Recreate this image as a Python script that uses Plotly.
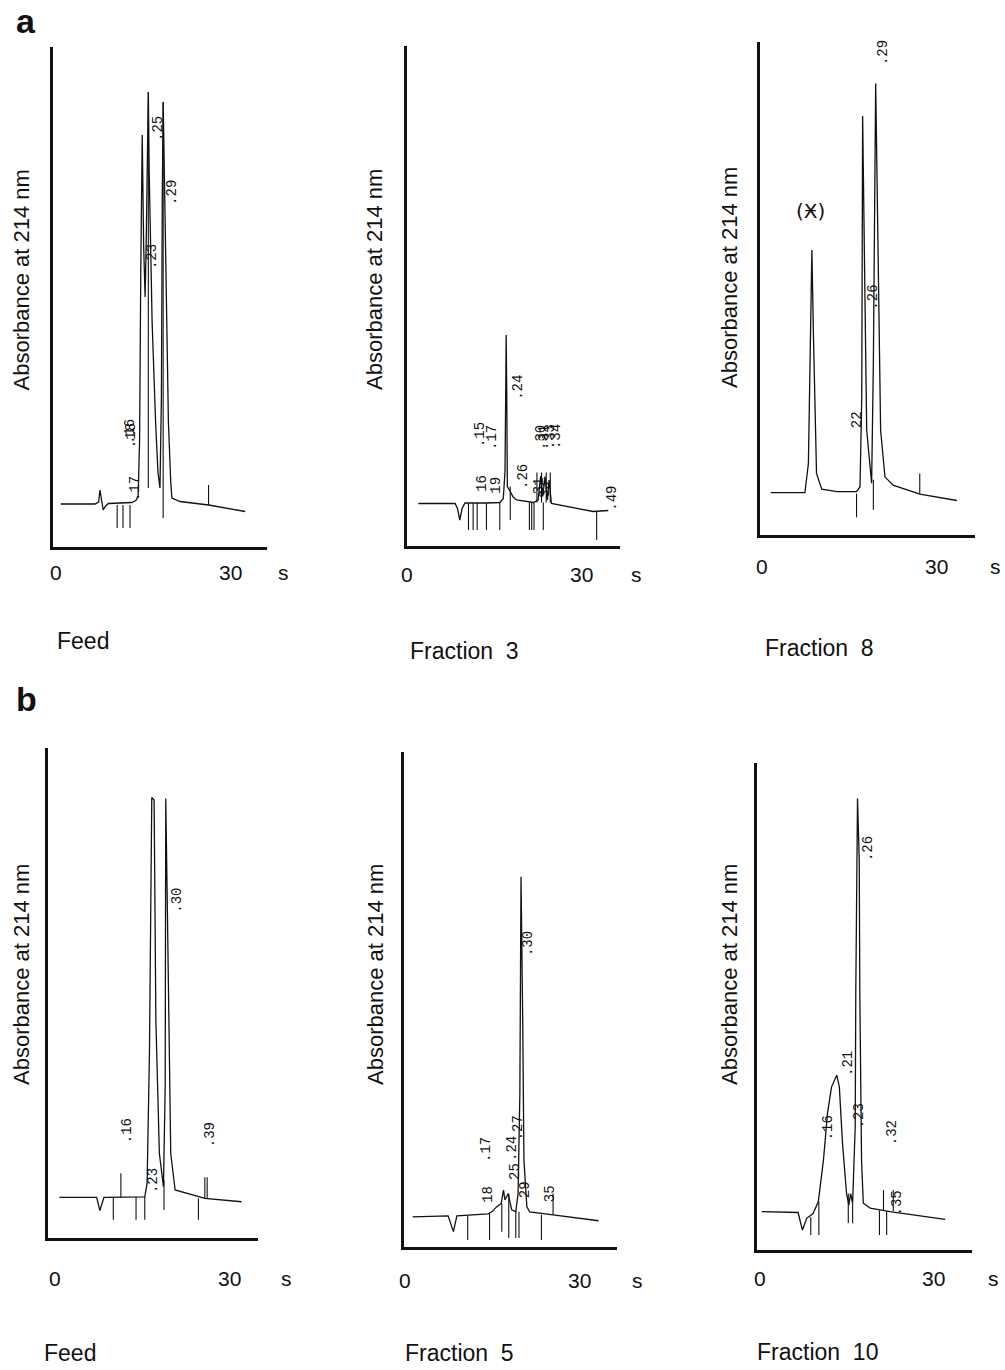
import plotly.graph_objects as go

# ---------------- data (time in s, absorbance in % of full scale) ----------------
group_labels = ["a", "b"]
panel_names = ["Feed", "Fraction\u00a0\u00a03", "Fraction\u00a0\u00a08",
               "Feed", "Fraction\u00a0\u00a05", "Fraction\u00a0\u00a010"]
tick_values = [0, 30]
tick_text = ["0", "30"]
unit_label = "s"
y_title = "Absorbance at 214 nm"

# --- a: Feed
a1_t = [0.9, 6.8, 7.4, 7.65, 7.9, 8.2, 8.6, 9.1, 13.1, 13.8, 14.2, 14.45, 14.65, 14.9, 15.15, 15.4, 15.6, 15.8,
        15.95, 16.1, 16.6, 17.2, 17.6, 17.95, 18.2, 18.35, 18.5, 18.7, 19.0, 19.4, 19.8, 20.0, 21.4, 26.3, 32.6]
a1_A = [8.6, 8.6, 9.0, 11.4, 9.5, 7.4, 8.2, 8.7, 8.9, 9.3, 10.1, 21.4, 54.8, 82.4, 60, 50, 62, 80,
        91, 75, 45, 25, 15, 11.8, 30, 70, 89, 75, 50, 25, 13, 9.8, 9.1, 8.4, 7.1]
a1_mark_t = [10.6, 11.6, 12.8, 15.95, 18.5, 26.3]
a1_mark_top = [8.4, 8.4, 8.4, 91, 89, 12.4]
a1_mark_bot = [3.8, 3.8, 3.8, 11.8, 5.8, 8.4]
a1_lbl = [".25", ".29", ".23", ".16", ".18", ".17"]
a1_lbl_t = [17.6, 20.0, 16.6, 12.8, 13.0, 13.66]
a1_lbl_A = [83.8, 71.0, 58.0, 23.0, 22.2, 11.6]

# --- a: Fraction 3
a2_t = [1.95, 8.3, 8.7, 9.1, 9.5, 10.0, 13.5, 16.0, 16.6, 16.9, 17.05, 17.1, 17.2, 17.3, 17.8, 18.3, 18.9,
        21.8, 22.6, 23.05, 23.4, 23.8, 24.2, 24.5, 24.9, 32.1, 34.7]
a2_A = [8.5, 8.5, 7.5, 5.2, 7.5, 8.6, 8.6, 8.7, 9.5, 15, 35, 42.2, 30, 11.9, 10.9, 9.8, 9.2,
        8.7, 9.2, 14, 9.9, 13.9, 9.2, 13.2, 8.5, 6.9, 7.1]
a2_mark_t = [10.6, 11.4, 12.1, 13.7, 16.0, 17.8, 21.1, 21.5, 21.9, 23.5, 22.4, 23.2, 24.0, 24.7, 32.7]
a2_mark_top = [8.6, 8.6, 8.6, 8.6, 8.7, 11.9, 8.7, 8.7, 8.7, 8.7, 14.7, 14.7, 14.7, 14.7, 6.9]
a2_mark_bot = [3.2, 3.2, 3.2, 3.2, 3.2, 5.2, 3.2, 3.2, 3.2, 3.2, 8.7, 8.7, 8.7, 8.7, 1.2]
a2_lbl = [".24", ".15", ".17", "16", "19", ".26", ".30", ".31", ".33", ".34", "31", "33", ".49"]
a2_lbl_t = [19.1, 12.6, 14.65, 12.9, 15.3, 20.0, 23.1, 23.6, 24.7, 25.7, 22.8, 23.8, 35.3]
a2_lbl_A = [31.8, 22.2, 21.8, 12.6, 12.2, 13.8, 21.8, 21.8, 21.8, 21.8, 12.0, 11.2, 9.6]

# --- a: Fraction 8
a3_t = [1.5, 7.4, 8.0, 8.3, 8.6, 8.85, 9.4, 10.3, 12.9, 16.3, 16.9, 17.2, 17.35, 17.75, 18.05, 18.9, 19.2,
        19.6, 20.05, 20.45, 21.2, 22.6, 27.2, 33.6]
a3_A = [8.6, 8.6, 14.5, 41.6, 57.8, 41.6, 12.5, 9.3, 8.8, 8.8, 9.8, 28, 85, 48.3, 21.3, 10.5, 34.8,
        91.6, 55, 21.3, 11.8, 10.1, 8.3, 7.0]
a3_mark_t = [16.3, 19.2, 27.2]
a3_mark_top = [8.4, 11.2, 12.5]
a3_mark_bot = [3.6, 5.1, 8.3]
a3_lbl = ["(\u04fe)", ".29", ".26", "22"]
a3_lbl_t = [8.3, 20.9, 19.1, 16.4]
a3_lbl_A = [65.7, 97.8, 48.3, 23.3]

# --- b: Feed
b1_t = [0.75, 7.15, 7.7, 8.4, 15.4, 15.8, 16.2, 16.6, 17.0, 17.3, 17.9, 18.6, 18.9, 19.0, 19.3, 19.85,
        20.6, 22.6, 25.7, 32.0]
b1_A = [8.3, 8.3, 5.6, 8.3, 8.4, 11.2, 37.7, 89.9, 89.4, 44.5, 17.3, 10.5, 30.9, 89.7, 64.9, 17.3,
        9.8, 9.1, 8.1, 7.4]
b1_mark_t = [10.0, 13.9, 15.4, 18.7, 24.6, 11.3, 25.7, 26.1]
b1_mark_top = [8.3, 8.3, 8.4, 11.8, 8.1, 13.2, 12.4, 12.4]
b1_mark_bot = [3.7, 3.7, 3.7, 5.7, 3.7, 8.3, 8.1, 8.1]
b1_lbl = [".21", ".30", ".16", ".39", ".23"]
b1_lbl_t = [18.35, 20.9, 12.35, 26.6, 16.8]
b1_lbl_A = [101.8, 69.0, 21.8, 21.0, 11.8]

# --- b: Fraction 5
b2_t = [1.3, 7.4, 8.3, 8.9, 14.3, 15.0, 15.7, 16.5, 16.9, 17.15, 17.7, 18.3, 19.0, 19.4, 19.7, 19.9,
        20.2, 20.4, 20.9, 21.4, 25.4, 33.2]
b2_A = [6.1, 6.3, 3.1, 6.3, 6.7, 7.2, 8.1, 8.8, 11.5, 9.5, 10.8, 7.5, 7.1, 10.8, 31, 74.8,
        44.5, 17.6, 8.1, 7.1, 6.5, 5.3]
b2_mark_t = [10.75, 14.5, 16.6, 17.8, 19.0, 19.55, 23.4, 25.4]
b2_mark_top = [6.3, 6.7, 8.9, 10.8, 7.1, 7.1, 6.5, 10.8]
b2_mark_bot = [1.4, 1.4, 3.1, 1.8, 1.8, 1.8, 1.4, 6.5]
b2_lbl = [".30", ".17", ".24", ".27", "25", "18", "29", "35"]
b2_lbl_t = [21.1, 13.9, 18.35, 19.4, 18.9, 14.2, 20.6, 24.9]
b2_lbl_A = [61.2, 19.6, 20.0, 24.0, 15.2, 10.7, 11.5, 10.7]

# --- b: Fraction 10
b3_t = [0.3, 6.6, 7.35, 8.1, 9.2, 10.1, 11.0, 11.7, 12.4, 13.3, 13.75, 14.3, 15.0, 15.4, 15.7, 16.05,
        16.5, 16.6, 16.9, 17.2, 17.3, 17.6, 17.9, 19.1, 22.5, 32.1]
b3_A = [7.9, 7.7, 4.1, 6.5, 7.5, 9.9, 18.5, 28.1, 33.5, 35.9, 33.5, 21.9, 11.6, 9.2, 11.6, 9.6,
        25.3, 52.7, 92.7, 80.1, 52.7, 18.5, 9.6, 8.6, 7.9, 6.3]
b3_mark_t = [8.8, 10.2, 15.3, 16.05, 20.7, 21.95, 21.4, 23.1]
b3_mark_top = [6.8, 9.9, 11.6, 9.6, 8.1, 7.9, 12.3, 12.3]
b3_mark_bot = [3.1, 3.1, 5.5, 5.5, 3.1, 3.1, 8.1, 8.0]
b3_lbl = [".26", ".21", ".16", ".23", ".32", ".35"]
b3_lbl_t = [18.7, 15.25, 11.8, 17.2, 22.9, 23.7]
b3_lbl_A = [82.5, 38.4, 25.0, 27.5, 24.0, 9.7]

series = [
    (a1_t, a1_A, a1_mark_t, a1_mark_top, a1_mark_bot, a1_lbl, a1_lbl_t, a1_lbl_A),
    (a2_t, a2_A, a2_mark_t, a2_mark_top, a2_mark_bot, a2_lbl, a2_lbl_t, a2_lbl_A),
    (a3_t, a3_A, a3_mark_t, a3_mark_top, a3_mark_bot, a3_lbl, a3_lbl_t, a3_lbl_A),
    (b1_t, b1_A, b1_mark_t, b1_mark_top, b1_mark_bot, b1_lbl, b1_lbl_t, b1_lbl_A),
    (b2_t, b2_A, b2_mark_t, b2_mark_top, b2_mark_bot, b2_lbl, b2_lbl_t, b2_lbl_A),
    (b3_t, b3_A, b3_mark_t, b3_mark_top, b3_mark_bot, b3_lbl, b3_lbl_t, b3_lbl_A),
]

# ---------------- layout geometry (pixels) ----------------
W, H = 1005, 1370
# left, right, bottom, top, px of t=0, px per s, tick-label y, unit x, title x, title y, name x, name y
geom = [
    dict(l=53, r=267, b=547, t=47, x0=55.5, k=5.82, ty=572, sx=283, yx=21.5, yy=280, nx=55, ny=641),
    dict(l=406.7, r=620, b=546, t=46, x0=407, k=5.8, ty=574, sx=636, yx=375, yy=280, nx=408, ny=651),
    dict(l=760, r=975, b=535, t=42, x0=762, k=5.8, ty=566, sx=995, yx=729, yy=278, nx=763, ny=648),
    dict(l=48.3, r=258, b=1238, t=748, x0=55, k=5.83, ty=1278, sx=286, yx=21, yy=975, nx=42, ny=1353),
    dict(l=404, r=617, b=1247, t=752, x0=405, k=5.83, ty=1280, sx=637, yx=375, yy=975, nx=403, ny=1353),
    dict(l=757.3, r=972, b=1250, t=763, x0=760, k=5.77, ty=1278, sx=993, yx=729, yy=975, nx=755, ny=1352),
]

SANS = "Liberation Sans, Arial, Helvetica, sans-serif"
MONO = "Liberation Mono, DejaVu Sans Mono, monospace"
INK = "#111111"

fig = go.Figure()
layout = dict(width=W, height=H, margin=dict(l=0, r=0, t=0, b=0),
              paper_bgcolor="white", plot_bgcolor="white", showlegend=False)
annotations = []


def px(x):
    return x / W


def py(y):
    return 1 - y / H


for i, (g, s) in enumerate(zip(geom, series)):
    n = i + 1
    xa = "xaxis" if n == 1 else f"xaxis{n}"
    ya = "yaxis" if n == 1 else f"yaxis{n}"
    xr = "x" if n == 1 else f"x{n}"
    yr = "y" if n == 1 else f"y{n}"
    t, A, mt, mtop, mbot, lbl, lt, lA = s
    xmin = (g["l"] - g["x0"]) / g["k"]
    xmax = (g["r"] - g["x0"]) / g["k"]
    layout[xa] = dict(domain=[px(g["l"]), px(g["r"])], range=[xmin, xmax], anchor=yr,
                      showline=True, linewidth=3, linecolor=INK, showgrid=False, zeroline=False,
                      showticklabels=False, ticks="", fixedrange=True)
    layout[ya] = dict(domain=[py(g["b"]), py(g["t"])], range=[0, 100], anchor=xr,
                      showline=True, linewidth=3, linecolor=INK, showgrid=False, zeroline=False,
                      showticklabels=False, ticks="", fixedrange=True)

    fig.add_trace(go.Scatter(x=t, y=A, mode="lines", line=dict(color=INK, width=1.3),
                             xaxis=xr, yaxis=yr, hoverinfo="skip", cliponaxis=False))
    sx, sy = [], []
    for a, b_, c in zip(mt, mtop, mbot):
        sx += [a, a, None]
        sy += [b_, c, None]
    fig.add_trace(go.Scatter(x=sx, y=sy, mode="lines", line=dict(color=INK, width=1.1),
                             xaxis=xr, yaxis=yr, hoverinfo="skip", cliponaxis=False))

    for txt, x, y in zip(lbl, lt, lA):
        big = txt.startswith("(")
        annotations.append(dict(text=txt, x=x, y=y, xref=xr, yref=yr, showarrow=False,
                                xanchor="center", yanchor="middle",
                                textangle=0 if big else -90,
                                font=dict(family="DejaVu Sans" if big else MONO,
                                          size=20 if big else 14, color=INK)))
    # tick labels
    for v, tt in zip(tick_values, tick_text):
        annotations.append(dict(text=tt, x=v, y=py(g["ty"]), xref=xr, yref="paper", showarrow=False,
                                xanchor="center", yanchor="middle",
                                font=dict(family=SANS, size=21, color=INK)))
    annotations.append(dict(text=unit_label, x=px(g["sx"]), y=py(g["ty"]), xref="paper", yref="paper",
                            xanchor="center", yanchor="middle",
                            showarrow=False, font=dict(family=SANS, size=21, color=INK)))
    annotations.append(dict(text=y_title, x=px(g["yx"]), y=py(g["yy"]), xref="paper", yref="paper",
                            xanchor="center", yanchor="middle",
                            showarrow=False, textangle=-90, font=dict(family=SANS, size=22, color=INK)))
    annotations.append(dict(text=panel_names[i], x=px(g["nx"]), y=py(g["ny"]), xref="paper", yref="paper",
                            xanchor="left", yanchor="middle",
                            showarrow=False, font=dict(family=SANS, size=23, color=INK)))

for lab, (x, y) in zip(group_labels, [(26, 21), (26, 699)]):
    annotations.append(dict(text=f"<b>{lab}</b>", x=px(x), y=py(y), xref="paper", yref="paper",
                            xanchor="center", yanchor="middle",
                            showarrow=False, font=dict(family=SANS, size=34, color=INK)))

layout["annotations"] = annotations
fig.update_layout(**layout)
fig.write_html("out.html")
